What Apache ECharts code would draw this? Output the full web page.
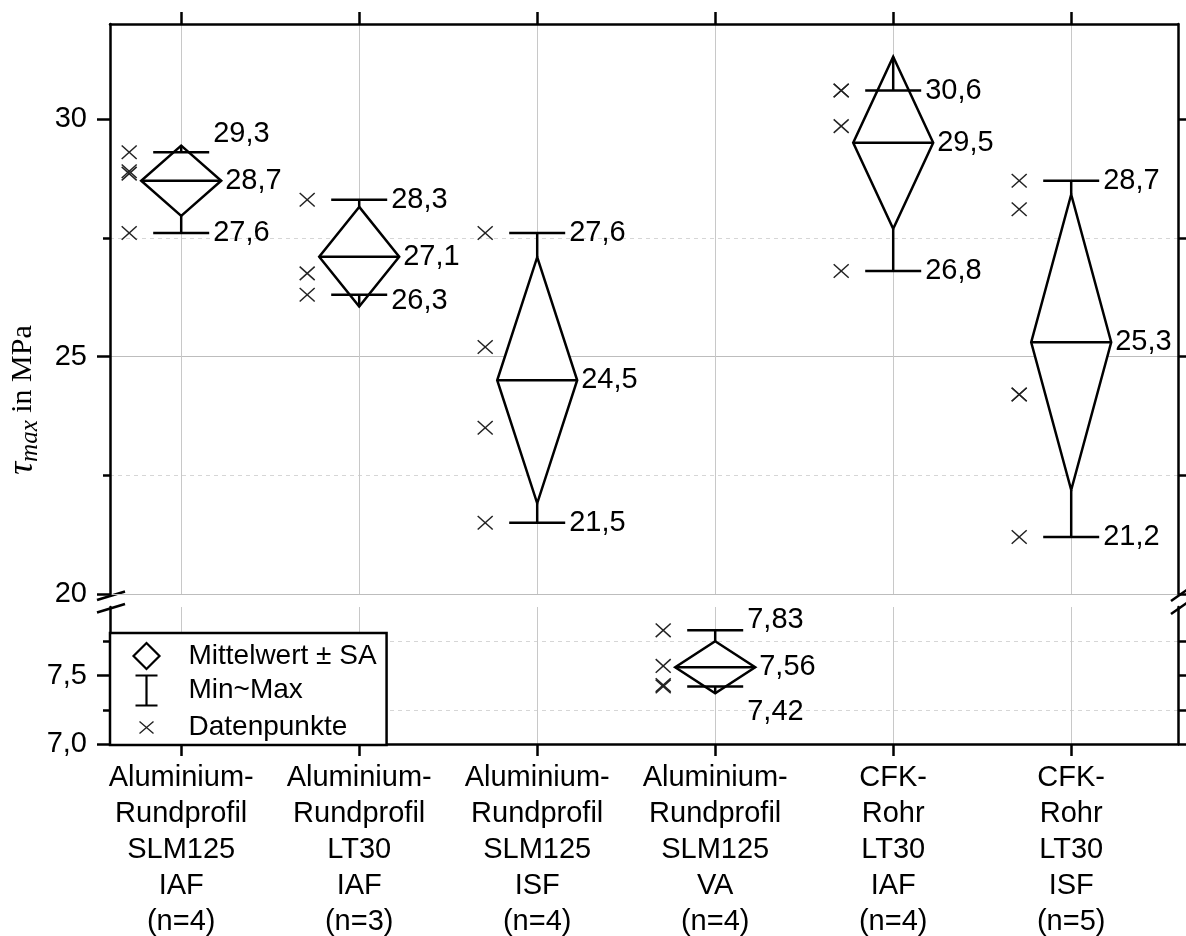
<!DOCTYPE html>
<html>
<head>
<meta charset="utf-8">
<script src="https://cdn.jsdelivr.net/npm/echarts@6/dist/echarts.min.js"></script>
<style>
html,body{margin:0;padding:0;background:#fff;}
#c{width:1186px;height:936px;}
</style>
</head>
<body>
<div id="c"></div>
<script>
// ---------------- data ----------------
const categories = [
  'Aluminium-\nRundprofil\nSLM125\nIAF\n(n=4)',
  'Aluminium-\nRundprofil\nLT30\nIAF\n(n=3)',
  'Aluminium-\nRundprofil\nSLM125\nISF\n(n=4)',
  'Aluminium-\nRundprofil\nSLM125\nVA\n(n=4)',
  'CFK-\nRohr\nLT30\nIAF\n(n=4)',
  'CFK-\nRohr\nLT30\nISF\n(n=5)'
];
const catPos = [1, 2, 3, 4, 5, 6];
const means = [28.7, 27.1, 24.5, 7.56, 29.5, 25.3];
const sds   = [0.74, 1.05, 2.59, 0.19, 1.81, 3.11];
const mins  = [27.6, 26.3, 21.5, 7.42, 26.8, 21.2];
const maxs  = [29.3, 28.3, 27.6, 7.83, 30.6, 28.7];
const points = [
  [29.3, 28.9, 28.85, 27.6],
  [28.3, 26.75, 26.3],
  [27.6, 25.2, 23.5, 21.5],
  [7.83, 7.57, 7.43, 7.42],
  [30.6, 30.6, 29.85, 26.8],
  [28.7, 28.1, 24.2, 24.2, 21.2]
];
const panel = [0, 0, 0, 1, 0, 0];        // 0: upper segment (20-32), 1: lower segment (7-8)
const upperTicks = [20, 25, 30];
const lowerTicks = [7.0, 7.5];

// ---------------- styling / layout ----------------
const FONT = '"Liberation Sans", Arial, sans-serif';
const SERIF = '"Liberation Serif", "DejaVu Serif", serif';
const FS = 29;
const GRID_L = 110, GRID_R = 8;
const UP_TOP = 24, UP_BOTTOM_Y = 594, LOW_TOP = 607, LOW_BOTTOM_Y = 744, H = 936;
const labelShift = {            // vertical pixel shifts of value labels
  max:  [-18, 0, 0, -10, 0, 0],
  mean: [0, 0, 0, 0, 0, 0],
  min:  [0, 6, 0, 26, 0, 0]
};
const DIAMOND_HW = 40, CAP_HW = 28, CROSS_DX = -52, LW = 2.5;

const fmt = v => String(v).replace('.', ',');

function seg(x1, y1, x2, y2, stroke, lw) {
  return {type: 'line', shape: {x1, y1, x2, y2}, style: {stroke: stroke || '#000', lineWidth: lw || LW}};
}
function renderDiamond(params, api) {
  const x = api.value(0), m = api.value(1), s = api.value(2);
  const c = api.coord([x, m]), t = api.coord([x, m + s]), b = api.coord([x, m - s]);
  return {type: 'group', children: [
    {type: 'polygon', shape: {points: [[c[0], t[1]], [c[0] + DIAMOND_HW, c[1]], [c[0], b[1]], [c[0] - DIAMOND_HW, c[1]]]},
     style: {fill: '#fff', stroke: '#000', lineWidth: LW, lineJoin: 'miter'}},
    seg(c[0] - DIAMOND_HW, c[1], c[0] + DIAMOND_HW, c[1])
  ]};
}
function renderWhisker(params, api) {
  const x = api.value(0), m = api.value(1), s = api.value(2), lo = api.value(3), hi = api.value(4);
  const pHi = api.coord([x, hi]), pLo = api.coord([x, lo]);
  const pT = api.coord([x, m + s]), pB = api.coord([x, m - s]);
  return {type: 'group', children: [
    seg(pHi[0], pHi[1], pT[0], pT[1]),
    seg(pLo[0], pLo[1], pB[0], pB[1]),
    seg(pHi[0] - CAP_HW, pHi[1], pHi[0] + CAP_HW, pHi[1]),
    seg(pLo[0] - CAP_HW, pLo[1], pLo[0] + CAP_HW, pLo[1])
  ]};
}
function renderCross(params, api) {
  const p = api.coord([api.value(0), api.value(1)]);
  const cx = p[0] + CROSS_DX, cy = p[1], h = 7.5, v = 6.8;
  return {type: 'group', children: [
    seg(cx - h, cy - v, cx + h, cy + v, '#222', 1.5),
    seg(cx - h, cy + v, cx + h, cy - v, '#222', 1.5)
  ]};
}
function txt(x, y, s) {
  return {type: 'text', x, y, style: {text: s, fill: '#000', fontSize: FS, fontFamily: FONT, align: 'left', verticalAlign: 'middle'}};
}
function renderLabels(params, api) {
  const x = api.value(0), m = api.value(1), lo = api.value(3), hi = api.value(4), i = api.value(5);
  const pHi = api.coord([x, hi]), pLo = api.coord([x, lo]), pM = api.coord([x, m]);
  return {type: 'group', children: [
    txt(pHi[0] + CAP_HW + 4, pHi[1] + labelShift.max[i], fmt(maxs[i])),
    txt(pM[0] + DIAMOND_HW + 4, pM[1] + labelShift.mean[i], fmt(means[i])),
    txt(pLo[0] + CAP_HW + 4, pLo[1] + labelShift.min[i], fmt(mins[i]))
  ]};
}

function groupData(p) {
  const out = [];
  for (let i = 0; i < means.length; i++) if (panel[i] === p) out.push([catPos[i], means[i], sds[i], mins[i], maxs[i], i]);
  return out;
}
function pointData(p) {
  const out = [];
  for (let i = 0; i < points.length; i++) if (panel[i] === p) points[i].forEach(v => out.push([catPos[i], v]));
  return out;
}

function xAxisDef(gridIndex, position, showLabel) {
  return {
    type: 'value', gridIndex, position, min: 0.6, max: 6.6, splitNumber: 6,
    axisLine: {show: true, onZero: false, lineStyle: {color: '#000', width: 2.5}},
    axisTick: {show: true, length: 12, customValues: catPos, lineStyle: {color: '#000', width: 2.5}},
    axisLabel: {show: showLabel, customValues: catPos, formatter: v => categories[Math.round(v) - 1],
      fontSize: FS, fontFamily: FONT, color: '#000', lineHeight: 36, margin: 16},
    splitLine: {show: true, lineStyle: {color: '#c8c8c8', width: 1}}
  };
}
function yAxisDef(gridIndex, position, min, max, interval, ticks, labelFmt, isLeft) {
  return {
    type: 'value', gridIndex, position, min, max, interval,
    axisLine: {show: true, onZero: false, lineStyle: {color: '#000', width: 2.5}},
    axisTick: {show: true, length: isLeft ? 13 : 8, customValues: ticks, lineStyle: {color: '#000', width: 2.5}},
    minorTick: {show: true, splitNumber: 2, length: isLeft ? 7 : 8, lineStyle: {color: '#000', width: 2.5}},
    axisLabel: {show: isLeft, customValues: ticks, formatter: labelFmt, fontSize: FS, fontFamily: FONT, color: '#000', margin: 23},
    splitLine: {show: isLeft, showMinLine: true, showMaxLine: false, lineStyle: {color: '#bdbdbd', width: 1}},
    minorSplitLine: {show: isLeft, lineStyle: {color: '#d6d6d6', width: 1, type: [4, 4]}}
  };
}

const chart = echarts.init(document.getElementById('c'), null, {renderer: 'canvas'});
const option = {
  animation: false,
  backgroundColor: '#fff',
  textStyle: {fontFamily: FONT},
  grid: [
    {left: GRID_L, right: GRID_R, top: UP_TOP, bottom: H - UP_BOTTOM_Y, outerBoundsMode: 'none', containLabel: false},
    {left: GRID_L, right: GRID_R, top: LOW_TOP, bottom: H - LOW_BOTTOM_Y, outerBoundsMode: 'none', containLabel: false}
  ],
  xAxis: [xAxisDef(0, 'top', false), xAxisDef(1, 'bottom', true)],
  yAxis: [
    yAxisDef(0, 'left', 20, 32, 5, upperTicks, v => String(v), true),
    yAxisDef(0, 'right', 20, 32, 5, upperTicks, v => String(v), false),
    yAxisDef(1, 'left', 7, 8, 0.5, lowerTicks, v => v.toFixed(1).replace('.', ','), true),
    yAxisDef(1, 'right', 7, 8, 0.5, lowerTicks, v => v.toFixed(1).replace('.', ','), false)
  ],
  legend: {
    show: true, orient: 'vertical', left: GRID_L, top: 633,
    backgroundColor: '#fff', borderColor: '#000', borderWidth: 2.5, borderRadius: 0,
    padding: [8, 10, 0, 21],
    itemWidth: 26, itemHeight: 30, itemGap: 2,
    selectedMode: false,
    textStyle: {fontSize: 28, fontFamily: FONT, color: '#000', lineHeight: 30, padding: [0, 0, 0, 24]},
    data: [
      {name: 'Mittelwert ± SA', icon: 'path://M13,0L26,13L13,26L0,13Z',
       itemStyle: {color: '#fff', borderColor: '#000', borderWidth: 2.2}},
      {name: 'Min~Max', icon: 'path://M0,0L22,0M11,0L11,30M0,30L22,30',
       itemStyle: {color: 'none', borderColor: '#000', borderWidth: 2.2}},
      {name: 'Datenpunkte', icon: 'path://M0,0M26,30M6,9L20,21M20,9L6,21',
       itemStyle: {color: 'none', borderColor: '#222', borderWidth: 1.4}}
    ]
  },
  series: [
    {name: 'Mittelwert ± SA', type: 'custom', xAxisIndex: 0, yAxisIndex: 0, renderItem: renderDiamond, data: groupData(0), z: 3, silent: true, encode: {x: 0, y: 1}},
    {name: 'Mittelwert ± SA', type: 'custom', xAxisIndex: 1, yAxisIndex: 2, renderItem: renderDiamond, data: groupData(1), z: 3, silent: true, encode: {x: 0, y: 1}},
    {name: 'Min~Max', type: 'custom', xAxisIndex: 0, yAxisIndex: 0, renderItem: renderWhisker, data: groupData(0), z: 4, silent: true, encode: {x: 0, y: 1}},
    {name: 'Min~Max', type: 'custom', xAxisIndex: 1, yAxisIndex: 2, renderItem: renderWhisker, data: groupData(1), z: 4, silent: true, encode: {x: 0, y: 1}},
    {name: 'Datenpunkte', type: 'custom', xAxisIndex: 0, yAxisIndex: 0, renderItem: renderCross, data: pointData(0), z: 4, silent: true, encode: {x: 0, y: 1}},
    {name: 'Datenpunkte', type: 'custom', xAxisIndex: 1, yAxisIndex: 2, renderItem: renderCross, data: pointData(1), z: 4, silent: true, encode: {x: 0, y: 1}},
    {name: 'Werte', type: 'custom', xAxisIndex: 0, yAxisIndex: 0, renderItem: renderLabels, data: groupData(0), z: 5, silent: true, encode: {x: 0, y: 1}},
    {name: 'Werte', type: 'custom', xAxisIndex: 1, yAxisIndex: 2, renderItem: renderLabels, data: groupData(1), z: 5, silent: true, encode: {x: 0, y: 1}}
  ],
  graphic: [
    {type: 'text', x: 23, y: 400, rotation: Math.PI / 2, silent: true,
     style: {text: '{t|τ}{s|max}{n| in MPa}', align: 'center', verticalAlign: 'middle',
       rich: {
         t: {fontFamily: SERIF, fontStyle: 'italic', fontSize: 36, fill: '#000'},
         s: {fontFamily: SERIF, fontStyle: 'italic', fontSize: 25, fill: '#000', padding: [14, 0, 0, 0]},
         n: {fontFamily: SERIF, fontSize: 30, fill: '#000'}
       }}},
    {type: 'line', silent: true, shape: {x1: 97, y1: 600, x2: 125, y2: 591.5}, style: {stroke: '#000', lineWidth: 2.5}},
    {type: 'line', silent: true, shape: {x1: 97, y1: 612.5, x2: 125, y2: 604}, style: {stroke: '#000', lineWidth: 2.5}},
    {type: 'line', silent: true, shape: {x1: 1171, y1: 601, x2: 1188, y2: 589}, style: {stroke: '#000', lineWidth: 2.5}},
    {type: 'line', silent: true, shape: {x1: 1171, y1: 614, x2: 1188, y2: 602}, style: {stroke: '#000', lineWidth: 2.5}}
  ]
};
chart.setOption(option);
</script>
</body>
</html>
